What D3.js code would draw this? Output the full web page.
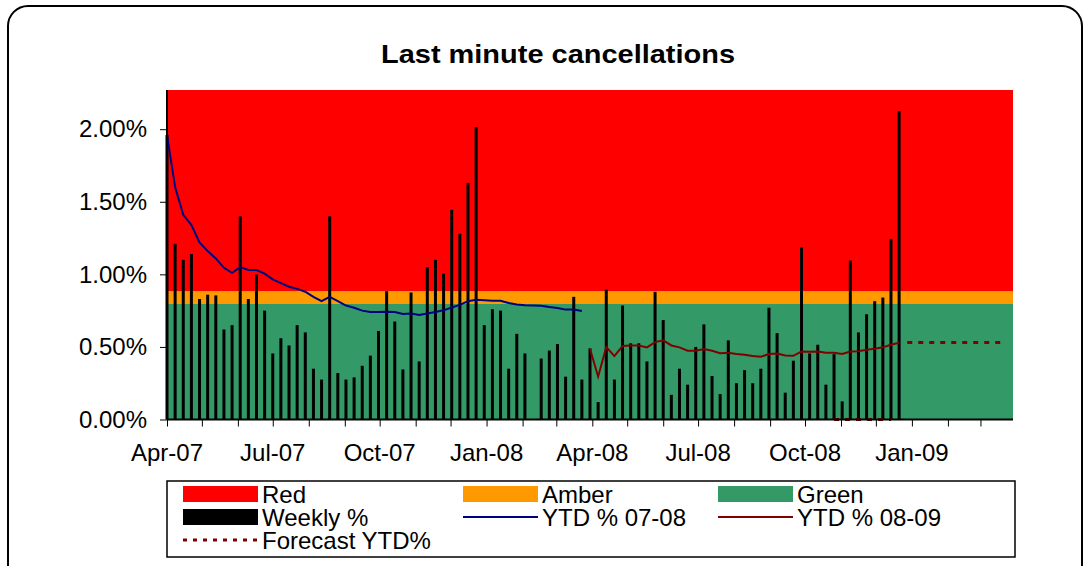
<!DOCTYPE html>
<html>
<head>
<meta charset="utf-8">
<script src="https://cdnjs.cloudflare.com/ajax/libs/d3/7.8.5/d3.min.js"></script>
<style>
  body { margin: 0; background: #fff; }
  text { font-family: "Liberation Sans", Arial, sans-serif; }
</style>
</head>
<body>
<div id="chart"></div>
<script>
// weekly last minute cancellation %, one value per week from w/c 1 Apr 2007
var weekly = [1.96, 1.21, 1.10, 1.14, 0.83, 0.86, 0.855, 0.62, 0.65, 1.40,
  0.83, 1.00, 0.75, 0.455, 0.56, 0.51, 0.65, 0.60, 0.35, 0.275,
  1.40, 0.32, 0.275, 0.29, 0.37, 0.44, 0.61, 0.885, 0.675, 0.345,
  0.875, 0.40, 1.05, 1.10, 1.005, 1.445, 1.28, 1.63, 2.015, 0.65,
  0.76, 0.75, 0.35, 0.59, 0.455, 0, 0.42, 0.475, 0.52, 0.295,
  0.845, 0.275, 0.49, 0.12, 0.895, 0.275, 0.785, 0.525, 0.525, 0.40,
  0.88, 0.685, 0.17, 0.35, 0.24, 0.50, 0.655, 0.30, 0.175, 0.545,
  0.25, 0.34, 0.25, 0.35, 0.77, 0.595, 0.185, 0.405, 1.185, 0.455,
  0.515, 0.24, 0.45, 0.125, 1.095, 0.60, 0.725, 0.815, 0.84, 1.245,
  2.125];

// YTD % 07-08 (weeks 0-51)
var ytd0708 = [1.96, 1.60, 1.41, 1.34, 1.22, 1.16, 1.11, 1.045, 1.01, 1.05,
  1.03, 1.03, 1.005, 0.965, 0.94, 0.915, 0.90, 0.88, 0.845, 0.815,
  0.845, 0.815, 0.785, 0.77, 0.75, 0.74, 0.74, 0.743, 0.74, 0.727,
  0.73, 0.72, 0.73, 0.74, 0.752, 0.772, 0.79, 0.815, 0.825, 0.822,
  0.818, 0.818, 0.802, 0.793, 0.787, 0.785, 0.784, 0.775, 0.768, 0.757,
  0.758, 0.747];

// YTD % 08-09 (weeks 52-90)
var ytd0809 = [0.487, 0.295, 0.499, 0.437, 0.506, 0.510, 0.510, 0.497, 0.533, 0.545,
  0.510, 0.497, 0.474, 0.474, 0.485, 0.474, 0.457, 0.460, 0.451, 0.446,
  0.437, 0.432, 0.451, 0.455, 0.441, 0.439, 0.469, 0.467, 0.469, 0.460,
  0.460, 0.451, 0.469, 0.471, 0.480, 0.487, 0.497, 0.515, 0.529];

// forecast YTD% (weeks 82-103)
var forecast = [0, 0, 0, 0, 0, 0, 0, 0, null,
  0.53, 0.53, 0.53, 0.53, 0.53, 0.53, 0.53, 0.53, 0.53, 0.53, 0.53, 0.53, 0.53];

// RAG thresholds
var greenTop = 0.80;
var amberTop = 0.885;
var redTop = 2.27;

var yTicks = [0, 0.5, 1.0, 1.5, 2.0];
var tickLabels = ["Apr-07", "Jul-07", "Oct-07", "Jan-08", "Apr-08", "Jul-08", "Oct-08", "Jan-09"];

var legendItems = [
  {name: "Red", type: "box", color: "#ff0000"},
  {name: "Amber", type: "box", color: "#ff9900"},
  {name: "Green", type: "box", color: "#339966"},
  {name: "Weekly %", type: "box", color: "#000000"},
  {name: "YTD % 07-08", type: "line", color: "#000080"},
  {name: "YTD % 08-09", type: "line", color: "#800000"},
  {name: "Forecast YTD%", type: "dash", color: "#800000"}
];

var width = 1088, height = 566;
var plotLeft = 167, plotRight = 1013, plotTop = 90, plotBottom = 419.5;

var start = new Date(2007, 3, 1);
function weekDate(i) { return d3.timeDay.offset(start, i * 7); }

var svg = d3.select("#chart").append("svg")
  .attr("width", width)
  .attr("height", height)

// outer frame
svg.append("rect")
  .attr("x", 8).attr("y", 6)
  .attr("width", 1074).attr("height", 580)
  .attr("rx", 20).attr("ry", 20)
  .attr("fill", "none")
  .attr("stroke", "#000")
  .attr("stroke-width", 2)

svg.append("text")
  .attr("x", 558).attr("y", 63)
  .attr("text-anchor", "middle")
  .attr("font-size", 25)
  .attr("font-weight", "bold")
  .attr("textLength", 354)
  .attr("lengthAdjust", "spacingAndGlyphs")
  .text("Last minute cancellations")

var x = d3.scaleTime()
  .domain([start, new Date(2009, 2, 29)])
  .range([plotLeft, plotRight]);

var y = d3.scaleLinear()
  .domain([0, redTop])
  .range([plotBottom, plotTop]);

// bands
var bands = [[0, greenTop, "#339966"], [greenTop, amberTop, "#ff9900"], [amberTop, redTop, "#ff0000"]];
svg.append("g").selectAll("rect")
  .data(bands)
  .enter().append("rect")
    .attr("x", plotLeft)
    .attr("width", plotRight - plotLeft)
    .attr("y", d => y(d[1]))
    .attr("height", d => y(d[0]) - y(d[1]))
    .attr("fill", d => d[2])

// weekly bars
svg.append("g").selectAll("rect")
  .data(weekly)
  .enter().append("rect")
    .attr("x", (d, i) => x(weekDate(i)) - 1.5)
    .attr("width", 3)
    .attr("y", d => y(d))
    .attr("height", d => plotBottom - y(d))
    .attr("fill", "#000")

var line = d3.line()
  .defined(d => d.v != null)
  .x(d => x(weekDate(d.i)))
  .y(d => y(d.v));

svg.append("path")
  .datum(ytd0708.map((v, i) => ({i: i, v: v})))
  .attr("d", line)
  .attr("fill", "none")
  .attr("stroke", "#000080")
  .attr("stroke-width", 2)

svg.append("path")
  .datum(ytd0809.map((v, i) => ({i: i + 52, v: v})))
  .attr("d", line)
  .attr("fill", "none")
  .attr("stroke", "#800000")
  .attr("stroke-width", 2)

svg.append("path")
  .datum(forecast.map((v, i) => ({i: i + 82, v: v})))
  .attr("d", line)
  .attr("fill", "none")
  .attr("stroke", "#800000")
  .attr("stroke-width", 3)
  .attr("stroke-dasharray", "5,6")

// axes
var yAxis = svg.append("g")
  .attr("transform", "translate(" + plotLeft + ",0)")
  .call(d3.axisLeft(y).tickValues(yTicks).tickSize(7).tickFormat(d => d.toFixed(2) + "%"))
yAxis.select(".domain").attr("stroke", "#000").attr("stroke-width", 2).attr("d", "M0," + plotTop + "V" + plotBottom)
yAxis.selectAll("text").attr("font-size", 24).attr("font-family", "Liberation Sans, Arial, sans-serif").attr("fill", "#000").attr("dx", -10)

var months = d3.timeMonth.range(start, new Date(2009, 2, 29));
var xAxis = svg.append("g")
  .attr("transform", "translate(0," + plotBottom + ")")
  .call(d3.axisBottom(x).tickValues(months).tickSize(7).tickFormat(""))
xAxis.select(".domain").attr("stroke", "#000").attr("stroke-width", 2).attr("d", "M" + plotLeft + ",0H" + plotRight)

svg.append("g").selectAll("text")
  .data(tickLabels)
  .enter().append("text")
    .attr("x", (d, i) => x(d3.timeMonth.offset(start, i * 3)))
    .attr("y", 461)
    .attr("text-anchor", "middle")
    .attr("font-size", 24)
    .text(d => d)

// legend
var legend = svg.append("g").attr("transform", "translate(167,481)")
legend.append("rect")
  .attr("width", 848).attr("height", 76)
  .attr("fill", "#fff").attr("stroke", "#000").attr("stroke-width", 1.5)

var colX = [16, 296, 551];
var item = legend.selectAll(".item")
  .data(legendItems)
  .enter().append("g")
    .attr("class", "item")
    .attr("transform", (d, i) => "translate(" + colX[i % 3] + "," + (13 + Math.floor(i / 3) * 23) + ")")

item.filter(d => d.type == "box").append("rect")
  .attr("y", -8).attr("width", 75).attr("height", 16)
  .attr("fill", d => d.color)
item.filter(d => d.type != "box").append("line")
  .attr("x2", 75)
  .attr("stroke", d => d.color)
  .attr("stroke-width", d => d.type == "dash" ? 3 : 2)
  .attr("stroke-dasharray", d => d.type == "dash" ? "4,6" : null)
item.append("text")
  .attr("x", 79).attr("y", 9)
  .attr("font-size", 24)
  .text(d => d.name)
</script>
</body>
</html>
